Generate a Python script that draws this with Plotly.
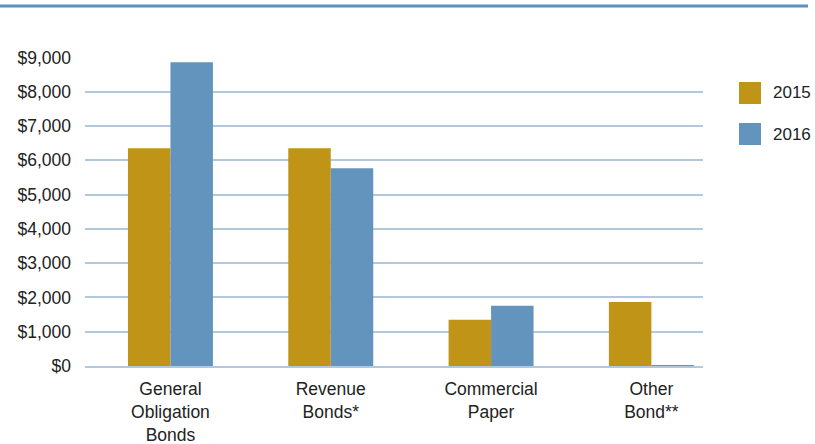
import plotly.graph_objects as go

categories = ["General<br>Obligation<br>Bonds", "Revenue<br>Bonds*", "Commercial<br>Paper", "Other<br>Bond**"]
series_names = ["2015", "2016"]
values_2015 = [6350, 6350, 1350, 1870]
values_2016 = [8860, 5770, 1760, 25]
y_tickvals = [0, 1000, 2000, 3000, 4000, 5000, 6000, 7000, 8000, 9000]
y_ticktext = ["$0", "$1,000", "$2,000", "$3,000", "$4,000", "$5,000", "$6,000", "$7,000", "$8,000", "$9,000"]

colors = ["#c09416", "#6294bd"]
FONT = "Liberation Sans, Arial, Helvetica, sans-serif"
TXT = "#222222"
GRID = "#b2c8df"

W, H = 815, 444
ML, MR, MT, MB = 85, 112, 57, 78
PW = W - ML - MR
PH = H - MT - MB


def px(x):
    return (x - ML) / PW


def py(y):
    return (H - MB - y) / PH


fig = go.Figure()
for name, vals, col in zip(series_names, [values_2015, values_2016], colors):
    fig.add_trace(go.Bar(
        x=list(range(len(categories))), y=vals, name=name,
        marker=dict(color=col, line=dict(width=0)),
        showlegend=False, hoverinfo="skip",
    ))

shapes = []
annotations = []
# top rule
shapes.append(dict(type="line", xref="paper", yref="paper",
                   x0=px(0), x1=px(808), y0=py(6), y1=py(6),
                   line=dict(color="#5f90bb", width=3)))
# custom legend
leg_y = [93, 134]
for name, col, cy in zip(series_names, colors, leg_y):
    shapes.append(dict(type="rect", xref="paper", yref="paper",
                       x0=px(739), x1=px(761), y0=py(cy - 11), y1=py(cy + 11),
                       fillcolor=col, line=dict(width=0)))
    annotations.append(dict(xref="paper", yref="paper", x=px(771), y=py(cy),
                            xanchor="left", yanchor="middle", text=name,
                            showarrow=False,
                            font=dict(family=FONT, size=17, color=TXT)))

fig.update_layout(
    width=W, height=H,
    margin=dict(l=ML, r=MR, t=MT, b=MB, autoexpand=False),
    paper_bgcolor="white", plot_bgcolor="white",
    barmode="group", bargap=0.47, bargroupgap=0,
    shapes=shapes, annotations=annotations,
    showlegend=False,
    xaxis=dict(
        tickvals=list(range(len(categories))), ticktext=categories,
        range=[-0.533, 3.322], automargin=False,
        showgrid=False, zeroline=False,
        showline=True, linecolor=GRID, linewidth=2,
        ticks="", ticklabelstandoff=6,
        tickfont=dict(family=FONT, size=17.5, color=TXT),
    ),
    yaxis=dict(
        range=[0, 9015], automargin=False,
        tickvals=y_tickvals, ticktext=y_ticktext,
        showgrid=True, gridcolor=GRID, gridwidth=1.5,
        zeroline=False, showline=False,
        ticks="", ticklabelstandoff=13,
        tickfont=dict(family=FONT, size=17.5, color=TXT),
    ),
)

fig.write_html("out.html", config={"displayModeBar": False},
               post_script="document.body.style.margin='0';")
